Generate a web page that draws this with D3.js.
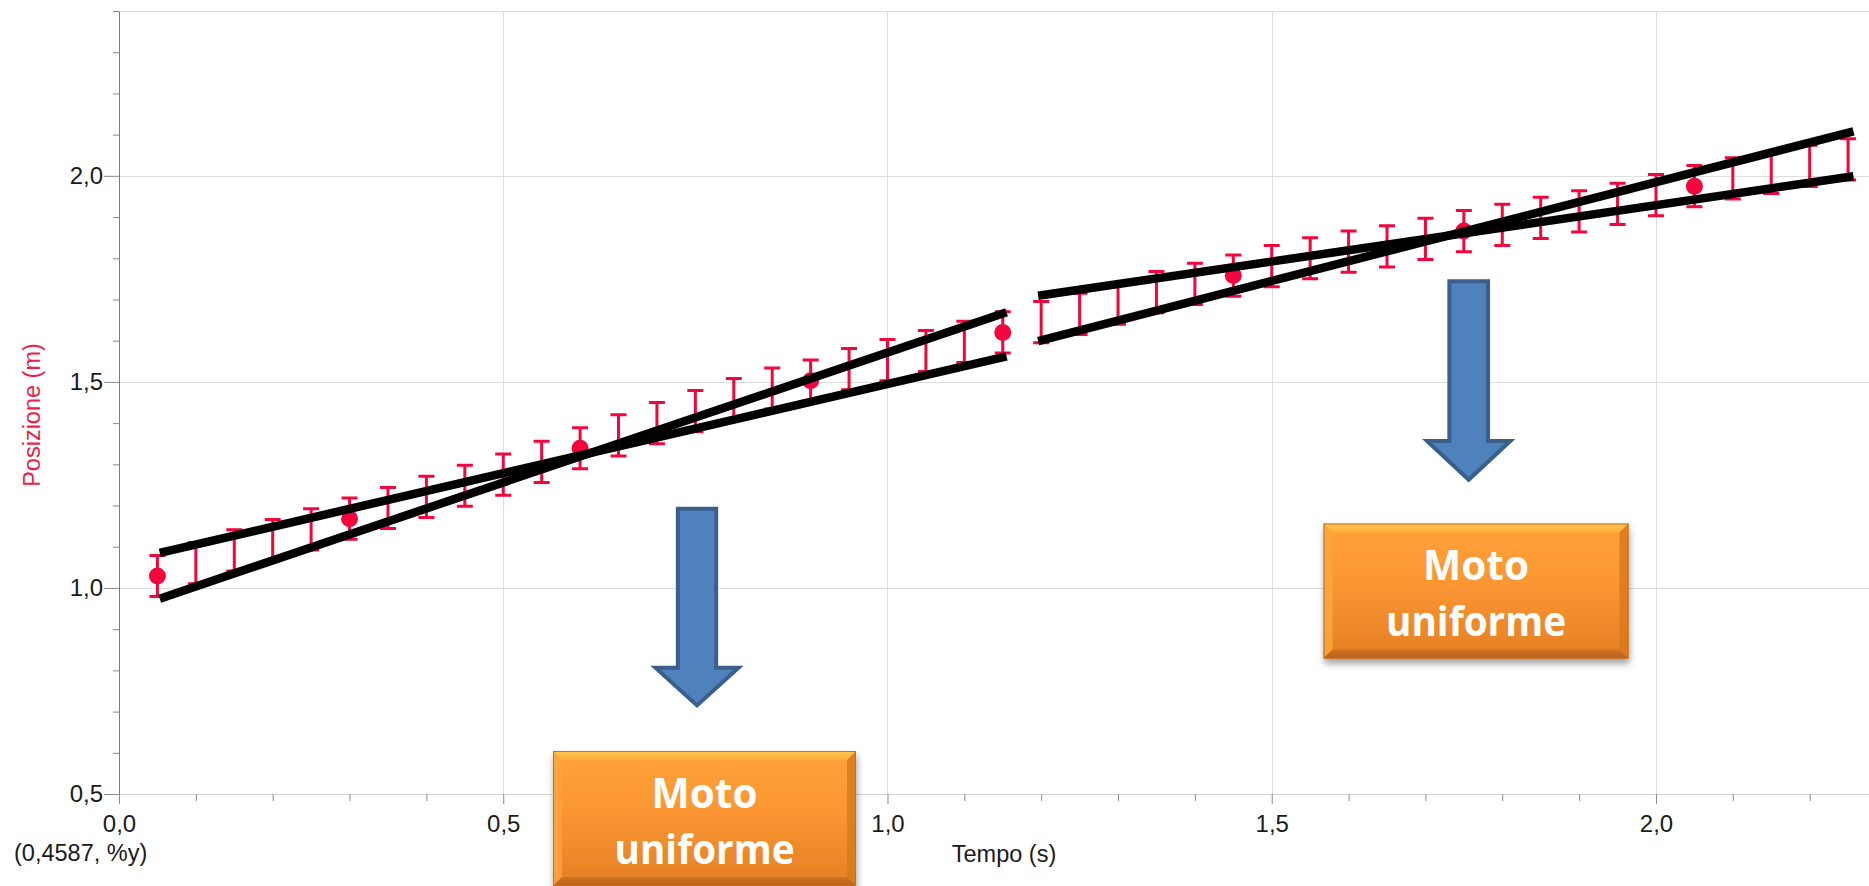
<!DOCTYPE html>
<html>
<head>
<meta charset="utf-8">
<script src="https://cdn.jsdelivr.net/npm/d3@7"></script>
<style>
  html, body { margin: 0; padding: 0; background: #fff; overflow: hidden; }
  svg { display: block; }
</style>
</head>
<body>
<svg id="chart" width="1869" height="886"></svg>
<script>
// Sample times (s)
const times = [0.05, 0.10, 0.15, 0.20, 0.25, 0.30, 0.35, 0.40, 0.45, 0.50,
               0.55, 0.60, 0.65, 0.70, 0.75, 0.80, 0.85, 0.90, 0.95, 1.00,
               1.05, 1.10, 1.15, 1.20, 1.25, 1.30, 1.35, 1.40, 1.45, 1.50,
               1.55, 1.60, 1.65, 1.70, 1.75, 1.80, 1.85, 1.90, 1.95, 2.00,
               2.05, 2.10, 2.15, 2.20, 2.25];
// Measured position (m)
const positions = [1.029, 1.060, 1.091, 1.116, 1.142, 1.168, 1.194, 1.221, 1.248, 1.275,
                   1.306, 1.339, 1.370, 1.400, 1.429, 1.458, 1.484, 1.503, 1.531, 1.553,
                   1.575, 1.597, 1.620, 1.645, 1.665, 1.690, 1.718, 1.738, 1.758, 1.781,
                   1.800, 1.816, 1.829, 1.847, 1.866, 1.881, 1.898, 1.914, 1.932, 1.953,
                   1.975, 1.994, 2.007, 2.024, 2.040];
// Uncertainty on each position (m)
const positionError = 0.05;
// Samples that carry a point marker
const markerTimes = [0.05, 0.30, 0.60, 0.90, 1.15, 1.45, 1.75, 2.05];

// Max/min slope lines for the two uniform-motion stretches
const boundStartT = [0.053, 0.053, 1.196, 1.196];
const boundEndT   = [1.155, 1.155, 2.257, 2.257];
const boundStartY = [1.085, 0.974, 1.709, 1.599];
const boundEndY   = [1.562, 1.669, 1.999, 2.108];

// Axis ticks
const xMajorTicks = [0.0, 0.5, 1.0, 1.5, 2.0];
const xMinorTicks = [0.1, 0.2, 0.3, 0.4, 0.6, 0.7, 0.8, 0.9, 1.1, 1.2, 1.3, 1.4, 1.6, 1.7, 1.8, 1.9, 2.1, 2.2];
const yMajorTicks = [0.5, 1.0, 1.5, 2.0];
const yMinorTicks = [0.6, 0.7, 0.8, 0.9, 1.1, 1.2, 1.3, 1.4, 1.6, 1.7, 1.8, 1.9, 2.1, 2.2, 2.3, 2.4];

const xTitle = "Tempo (s)";
const yTitle = "Posizione (m)";
const cursorLabel = "(0,4587, %y)";
const boxLines = ["Moto", "uniforme"];
const boxLineWidths = [106, 180];

const RED = "#f2063d";
const svg = d3.select("#chart");
const W = 1869, H = 886;
const plotLeft = 119, plotTop = 11, plotBottom = 794;

const x = d3.scaleLinear().domain([0, 2.2772]).range([plotLeft, W]);
const y = d3.scaleLinear().domain([0.5, 2.4]).range([plotBottom, plotTop]);

const itLocale = d3.formatLocale({ decimal: ",", thousands: ".", grouping: [3], currency: ["€", ""] });
const fmt = itLocale.format(".1f");

const defs = svg.append("defs");

// ---------- grid ----------
const grid = svg.append("g").attr("stroke", "#dedede").attr("stroke-width", 1).attr("shape-rendering", "crispEdges");
grid.selectAll("line.h").data(yMajorTicks.concat([2.4])).join("line")
  .attr("x1", plotLeft).attr("x2", W).attr("y1", d => Math.round(y(d)) + 0.5).attr("y2", d => Math.round(y(d)) + 0.5);
grid.selectAll("line.v").data(xMajorTicks.filter(d => d > 0)).join("line")
  .attr("y1", plotTop).attr("y2", plotBottom).attr("x1", d => Math.round(x(d)) + 0.5).attr("x2", d => Math.round(x(d)) + 0.5);

// ---------- axes ----------
const axisFont = "'Liberation Sans', Arial, sans-serif";

const yAxis = svg.append("g").attr("transform", `translate(${plotLeft},0)`)
  .call(d3.axisLeft(y).tickValues(yMajorTicks).tickFormat(fmt).tickSizeInner(15).tickSizeOuter(0).tickPadding(1));
svg.append("g").attr("transform", `translate(${plotLeft},0)`)
  .call(d3.axisLeft(y).tickValues(yMinorTicks).tickFormat("").tickSizeInner(6).tickSizeOuter(0))
  .call(g => g.select(".domain").remove());

const xAxis = svg.append("g").attr("transform", `translate(0,${plotBottom})`)
  .call(d3.axisBottom(x).tickValues(xMajorTicks).tickFormat(fmt).tickSizeInner(10).tickSizeOuter(0).tickPadding(11));
svg.append("g").attr("transform", `translate(0,${plotBottom})`)
  .call(d3.axisBottom(x).tickValues(xMinorTicks).tickFormat("").tickSizeInner(7).tickSizeOuter(0))
  .call(g => g.select(".domain").remove());

svg.selectAll(".tick line").attr("stroke", "#8a8a8a");
yAxis.select(".domain").attr("stroke", "#7a7a7a");
xAxis.select(".domain").attr("stroke", "#d4d4d4");
svg.selectAll(".tick text").attr("font-family", axisFont).attr("font-size", 24).attr("fill", "#1a1a1a");

// axis titles
svg.append("text").attr("x", 1004).attr("y", 862).attr("text-anchor", "middle")
  .attr("font-family", axisFont).attr("font-size", 23.5).attr("fill", "#1a1a1a").text(xTitle);
svg.append("text").attr("transform", "translate(32,415) rotate(-90)").attr("text-anchor", "middle")
  .attr("dominant-baseline", "central")
  .attr("font-family", axisFont).attr("font-size", 23.5).attr("fill", "#ec1e4a").text(yTitle);
svg.append("text").attr("x", 14).attr("y", 861)
  .attr("font-family", axisFont).attr("font-size", 23.5).attr("fill", "#1a1a1a").text(cursorLabel);

// ---------- error bars ----------
const samples = times.map((t, i) => ({ t, p: positions[i] }));
const capHalf = 8;
const eb = svg.append("g").attr("stroke", RED).attr("stroke-width", 3).attr("fill", "none");
eb.selectAll("path").data(samples).join("path")
  .attr("d", d => {
    const cx = x(d.t), y1 = y(d.p + positionError), y0 = y(d.p - positionError);
    return `M${cx},${y1}V${y0}M${cx - capHalf},${y1}H${cx + capHalf}M${cx - capHalf},${y0}H${cx + capHalf}`;
  });

// point markers
svg.append("g").selectAll("circle")
  .data(samples.filter(d => markerTimes.some(m => Math.abs(m - d.t) < 1e-6)))
  .join("circle")
  .attr("cx", d => x(d.t)).attr("cy", d => y(d.p)).attr("r", 8.5).attr("fill", RED);

// ---------- max/min slope lines ----------
const bounds = boundStartT.map((t0, i) => ({ t0, t1: boundEndT[i], y0: boundStartY[i], y1: boundEndY[i] }));
svg.append("g").selectAll("line").data(bounds).join("line")
  .attr("x1", d => x(d.t0)).attr("y1", d => y(d.y0))
  .attr("x2", d => x(d.t1)).attr("y2", d => y(d.y1))
  .attr("stroke", "#000").attr("stroke-width", 8.5).attr("stroke-linecap", "butt");

// ---------- annotations: arrows ----------
function downArrow(cx, topY, shaftW, headW, headY, tipY) {
  const p = d3.path();
  p.moveTo(cx - shaftW / 2, topY);
  p.lineTo(cx + shaftW / 2, topY);
  p.lineTo(cx + shaftW / 2, headY);
  p.lineTo(cx + headW / 2, headY);
  p.lineTo(cx, tipY);
  p.lineTo(cx - headW / 2, headY);
  p.lineTo(cx - shaftW / 2, headY);
  p.closePath();
  svg.append("path").attr("d", p.toString())
    .attr("fill", "#4f81bd").attr("stroke", "#3a5f8b").attr("stroke-width", 4)
    .attr("stroke-linejoin", "miter");
}
downArrow(697, 508.7, 38.3, 83, 667.7, 705.4);
downArrow(1468.7, 281.3, 38.7, 83.3, 441, 479.8);

// ---------- annotations: bevelled orange boxes ----------
const shadow = defs.append("filter").attr("id", "boxShadow")
  .attr("x", "-10%").attr("y", "-10%").attr("width", "130%").attr("height", "140%");
shadow.append("feDropShadow").attr("dx", 1).attr("dy", 5).attr("stdDeviation", 3.5)
  .attr("flood-color", "#000").attr("flood-opacity", 0.38);

const bodyGrad = defs.append("linearGradient").attr("id", "boxBody").attr("x1", 0).attr("y1", 0).attr("x2", 0).attr("y2", 1);
bodyGrad.append("stop").attr("offset", "0%").attr("stop-color", "#ffa23a");
bodyGrad.append("stop").attr("offset", "45%").attr("stop-color", "#fb9632");
bodyGrad.append("stop").attr("offset", "100%").attr("stop-color", "#e47f25");

const topGrad = defs.append("linearGradient").attr("id", "boxTop").attr("x1", 0).attr("y1", 0).attr("x2", 0).attr("y2", 1);
topGrad.append("stop").attr("offset", "0%").attr("stop-color", "#ffc84f");
topGrad.append("stop").attr("offset", "100%").attr("stop-color", "#ffac3e");

const botGrad = defs.append("linearGradient").attr("id", "boxBottom").attr("x1", 0).attr("y1", 0).attr("x2", 0).attr("y2", 1);
botGrad.append("stop").attr("offset", "0%").attr("stop-color", "#d37322");
botGrad.append("stop").attr("offset", "100%").attr("stop-color", "#b4611c");

function orangeBox(x0, y0, w, h) {
  const b = 9, x1 = x0 + w, y1 = y0 + h;
  const g = svg.append("g");
  g.append("rect").attr("x", x0).attr("y", y0).attr("width", w).attr("height", h)
    .attr("fill", "url(#boxBody)").attr("filter", "url(#boxShadow)");
  g.append("polygon").attr("points", [[x0, y0], [x1, y0], [x1 - b, y0 + b], [x0 + b, y0 + b]].join(" "))
    .attr("fill", "url(#boxTop)");
  g.append("polygon").attr("points", [[x0, y0], [x0 + b, y0 + b], [x0 + b, y1 - b], [x0, y1]].join(" "))
    .attr("fill", "#fda43d").attr("opacity", 0.9);
  g.append("polygon").attr("points", [[x1, y0], [x1, y1], [x1 - b, y1 - b], [x1 - b, y0 + b]].join(" "))
    .attr("fill", "#d9791f").attr("opacity", 0.85);
  g.append("polygon").attr("points", [[x0, y1], [x0 + b, y1 - b], [x1 - b, y1 - b], [x1, y1]].join(" "))
    .attr("fill", "url(#boxBottom)");
  g.append("rect").attr("x", x0 + 0.5).attr("y", y0 + 0.5).attr("width", w - 1).attr("height", h - 1)
    .attr("fill", "none").attr("stroke", "#c9711f").attr("stroke-width", 1);
  const cx = x0 + w / 2;
  g.selectAll("text").data(boxLines).join("text")
    .attr("x", cx).attr("y", (d, i) => y0 + 56.7 + i * 56)
    .attr("text-anchor", "middle")
    .attr("font-family", "'Open Sans', Lato, sans-serif").attr("font-weight", 700)
    .attr("font-size", 42).attr("fill", "#ffffff")
    .attr("textLength", (d, i) => boxLineWidths[i]).attr("lengthAdjust", "spacingAndGlyphs")
    .text(d => d);
}
orangeBox(553, 751, 303, 135);
orangeBox(1323.5, 523.5, 305, 135);
</script>
</body>
</html>
